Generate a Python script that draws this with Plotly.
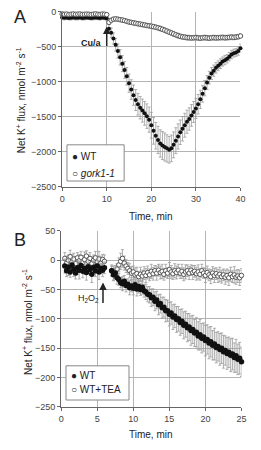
import numpy as np
import plotly.graph_objects as go

W, H = 261, 450

# ---------------- Panel A data (time step 0.5 min, 0..40) ----------------
time_a = np.arange(0, 40.01, 0.5)
wt_a = [-80, -85, -82, -88, -84, -80, -86, -83, -81, -87, -85, -82, -84, -88, -83, -80, -85, -87, -82, -84,
        -90, -240, -300, -380, -470, -560, -650, -740, -830, -920,
        -1020, -1110, -1190, -1260, -1320, -1370, -1410, -1450, -1490, -1540,
        -1620, -1700, -1770, -1830, -1880, -1910, -1930, -1950, -1970, -1950,
        -1900, -1840, -1780, -1720, -1670, -1620, -1570, -1530, -1480, -1430,
        -1380, -1320, -1250, -1170, -1090, -1010, -940, -880, -840, -800,
        -770, -740, -710, -690, -670, -640, -610, -590, -580, -560, -520]
wt_a_err = [25, 30, 28, 26, 32, 27, 29, 31, 26, 28, 30, 27, 25, 29, 31, 28, 26, 30, 27, 29,
            30, 60, 70, 80, 90, 100, 110, 115, 120, 125,
            130, 140, 145, 150, 155, 160, 165, 170, 175, 180,
            185, 190, 190, 195, 195, 200, 200, 195, 190, 190,
            185, 185, 180, 175, 175, 170, 165, 160, 155, 150,
            145, 140, 130, 120, 110, 100, 90, 85, 80, 75,
            70, 70, 65, 65, 60, 60, 60, 55, 55, 60, 60]
gork_a = [-30, -35, -32, -38, -34, -30, -36, -33, -31, -37, -35, -32, -34, -38, -33, -30, -35, -37, -32, -34,
          -40, -150, -120, -105, -100, -105, -112, -118, -125, -135,
          -145, -150, -158, -163, -170, -175, -182, -188, -195, -200,
          -205, -212, -220, -228, -238, -250, -262, -275, -290, -302,
          -315, -328, -340, -350, -358, -362, -368, -370, -372, -370,
          -368, -372, -375, -370, -368, -372, -375, -370, -368, -372,
          -370, -368, -366, -370, -368, -365, -362, -365, -360, -355, -345]
gork_a_err = [15, 18, 16, 17, 15, 19, 16, 18, 17, 15, 16, 18, 17, 15, 19, 16, 18, 17, 15, 16,
              18, 30, 28, 26, 25, 27, 25, 28, 26, 27,
              28, 26, 29, 27, 30, 28, 31, 29, 30, 28,
              31, 29, 32, 30, 33, 31, 34, 32, 33, 31,
              34, 32, 35, 33, 34, 32, 35, 33, 34, 32,
              35, 33, 34, 32, 35, 33, 34, 32, 35, 33,
              34, 32, 35, 33, 34, 32, 35, 33, 34, 32, 35]

# ---------------- Panel B data (time step 0.25 min) ----------------
time_b1 = np.arange(0.5, 6.01, 0.25)
time_b2 = np.arange(7.0, 25.01, 0.25)
time_b = np.concatenate([time_b1, time_b2])

wt_b = [-10, -18, -12, -20, -8, -15, -22, -13, -17, -9, -19, -14, -21, -11, -16, -24, -12, -18, -10, -20, -14, -17, -13,
        -18, -25, -22, -30, -33, -38, -40, -36, -43, -41, -47, -44, -48, -42, -49, -45, -50, -46, -52, -54,
        -58, -59, -64, -63, -70, -68, -76, -74, -81, -80, -86, -86, -92, -90, -97, -95, -101, -100, -106, -104,
        -111, -109, -115, -114, -120, -118, -124, -123, -129, -127, -133, -131, -137, -135, -141, -139, -145, -143, -149, -147,
        -152, -150, -156, -154, -159, -157, -162, -160, -166, -163, -169, -167, -173]
wt_b_err = [12, 10, 14, 9, 11, 13, 10, 12, 15, 9, 11, 10, 13, 12, 9, 14, 11, 10, 12, 13, 9, 11, 10,
            8, 10, 9, 11, 10, 9, 12, 10, 11, 9, 12, 10, 11, 10, 12, 11, 10, 12, 11, 13,
            13, 14, 15, 14, 16, 15, 17, 16, 18, 17, 19, 18, 20, 19, 21, 20, 22, 21, 22, 21,
            23, 22, 24, 23, 25, 24, 23, 25, 24, 26, 25, 24, 26, 25, 27, 26, 25, 27, 26, 25,
            27, 26, 28, 25, 27, 26, 28, 27, 25, 28, 26, 27, 25]
tea_b = [3, -5, 0, 6, -3, 2, -6, 4, -1, 5, -4, 1, 7, -2, 3, -6, 0, 4, -3, 2, -5, 1, -2,
         -18, -22, -20, -15, -8, -2, 3, -5, -10, -14, -18, -22, -20, -25, -23, -28, -24, -27, -22, -26,
         -21, -25, -19, -23, -18, -22, -17, -21, -19, -24, -18, -22, -16, -20, -23, -18, -21, -17, -22, -19,
         -24, -20, -18, -22, -17, -21, -19, -23, -20, -24, -18, -22, -26, -21, -25, -28, -22, -26, -23, -27,
         -24, -28, -25, -29, -26, -30, -24, -28, -25, -29, -27, -30, -26]
tea_b_err = [10, 12, 9, 11, 13, 10, 12, 9, 11, 10, 12, 13, 9, 11, 10, 12, 9, 11, 10, 13, 12, 9, 11,
             10, 12, 11, 9, 12, 14, 15, 12, 11, 10, 12, 11, 10, 12, 11, 9, 12, 10, 11, 12,
             11, 10, 12, 11, 9, 12, 10, 11, 12, 10, 11, 9, 12, 11, 10, 12, 11, 10, 9, 12,
             11, 12, 10, 11, 9, 12, 10, 11, 12, 10, 11, 9, 12, 11, 10, 12, 11, 12, 10, 11,
             12, 11, 10, 12, 11, 13, 12, 10, 14, 12, 11, 13, 12]

xticks_a = [0, 10, 20, 30, 40]
yticks_a = [0, -500, -1000, -1500, -2000, -2500]
xticks_b = [0, 5, 10, 15, 20, 25]
yticks_b = [50, 0, -50, -100, -150, -200, -250]

FONT = "Liberation Sans, Arial, sans-serif"
ERR_COL = "#9a9a9a"


def px(x):
    return x / W


def py(y):
    return 1 - y / H


fig = go.Figure()


def err(vals, thick=0.8, width=1.5):
    return dict(type="data", array=vals, visible=True, color=ERR_COL, thickness=thick, width=width)


# Panel A
fig.add_trace(go.Scatter(x=time_a, y=wt_a, mode="markers", xaxis="x", yaxis="y",
                         error_y=err(wt_a_err), cliponaxis=False,
                         marker=dict(symbol="circle", size=4, color="#111111"), showlegend=False))
fig.add_trace(go.Scatter(x=time_a, y=gork_a, mode="markers", xaxis="x", yaxis="y",
                         error_y=err(gork_a_err), cliponaxis=False,
                         marker=dict(symbol="circle", size=4.5, color="white",
                                     line=dict(color="#555555", width=1)), showlegend=False))
# Panel B
fig.add_trace(go.Scatter(x=time_b, y=tea_b, mode="markers", xaxis="x2", yaxis="y2",
                         error_y=err(tea_b_err), cliponaxis=False,
                         marker=dict(symbol="circle", size=4.5, color="white",
                                     line=dict(color="#555555", width=1)), showlegend=False))
fig.add_trace(go.Scatter(x=time_b, y=wt_b, mode="markers", xaxis="x2", yaxis="y2",
                         error_y=err(wt_b_err), cliponaxis=False,
                         marker=dict(symbol="circle", size=5.5, color="#111111"), showlegend=False))

axis_common = dict(showgrid=True, gridcolor="#b4b4b4", gridwidth=1, zeroline=False,
                   showline=True, linecolor="#666666", linewidth=1,
                   ticks="outside", ticklen=3, tickcolor="#666666",
                   tickfont=dict(family=FONT, size=9, color="#444444"), fixedrange=True)

fig.update_layout(
    width=W, height=H, margin=dict(l=0, r=0, t=0, b=0),
    paper_bgcolor="white", plot_bgcolor="white",
    xaxis=dict(domain=[px(61), px(245)], range=[0, 40], tickvals=xticks_a, anchor="y", **axis_common),
    yaxis=dict(domain=[py(186), py(7)], range=[-2500, 0], tickvals=yticks_a, anchor="x", **axis_common),
    xaxis2=dict(domain=[px(60), px(246)], range=[0, 25], tickvals=xticks_b, anchor="y2", **axis_common),
    yaxis2=dict(domain=[py(411), py(231)], range=[-250, 50], tickvals=yticks_b, anchor="x2", **axis_common),
    showlegend=False,
)

ann = []
txt = dict(family=FONT, color="#222222")


def label(text, x, y, size, xanchor="center", angle=0):
    ann.append(dict(text=text, x=px(x), y=py(y), xref="paper", yref="paper", showarrow=False,
                    xanchor=xanchor, yanchor="middle", textangle=angle, font=dict(size=size, **txt)))


# Panel letters
label("A", 18, 12, 18)
label("B", 18, 240, 18)
ylab = "Net K<sup>+</sup> flux, nmol m<sup>-2</sup> s<sup>-1</sup>"
label(ylab, 18, 97, 10, angle=-90)
label(ylab, 25, 324, 10, angle=-90)
label("Time, min", 153, 216, 10)
label("Time, min", 153, 439, 10)
# Arrows
ann.append(dict(text="", x=10, y=-210, xref="x", yref="y", showarrow=True, ax=0, ay=21,
                arrowhead=2, arrowsize=1, arrowwidth=1.5, arrowcolor="#222222"))
label("<b>Cu/a</b>", 91, 39, 9)
ann.append(dict(text="", x=5.8, y=-38, xref="x2", yref="y2", showarrow=True, ax=0, ay=22,
                arrowhead=2, arrowsize=1, arrowwidth=1.5, arrowcolor="#222222"))
label("H<sub>2</sub>O<sub>2</sub>", 88, 300, 9)
# Legends (boxes + entries)
label("● WT", 69, 155, 10, xanchor="left")
label("○ <i>gork1-1</i>", 69, 172, 10, xanchor="left")
label("● WT", 68, 379, 10, xanchor="left")
label("○ WT+TEA", 68, 393, 10, xanchor="left")

shapes = [
    dict(type="rect", xref="paper", yref="paper", x0=px(66), x1=px(125), y0=py(180), y1=py(143),
         line=dict(color="#888888", width=1), fillcolor="white", layer="above"),
    dict(type="rect", xref="paper", yref="paper", x0=px(65), x1=px(130), y0=py(404), y1=py(369),
         line=dict(color="#888888", width=1), fillcolor="white", layer="above"),
]
fig.update_layout(annotations=ann, shapes=shapes)

fig.write_html("out.html")
